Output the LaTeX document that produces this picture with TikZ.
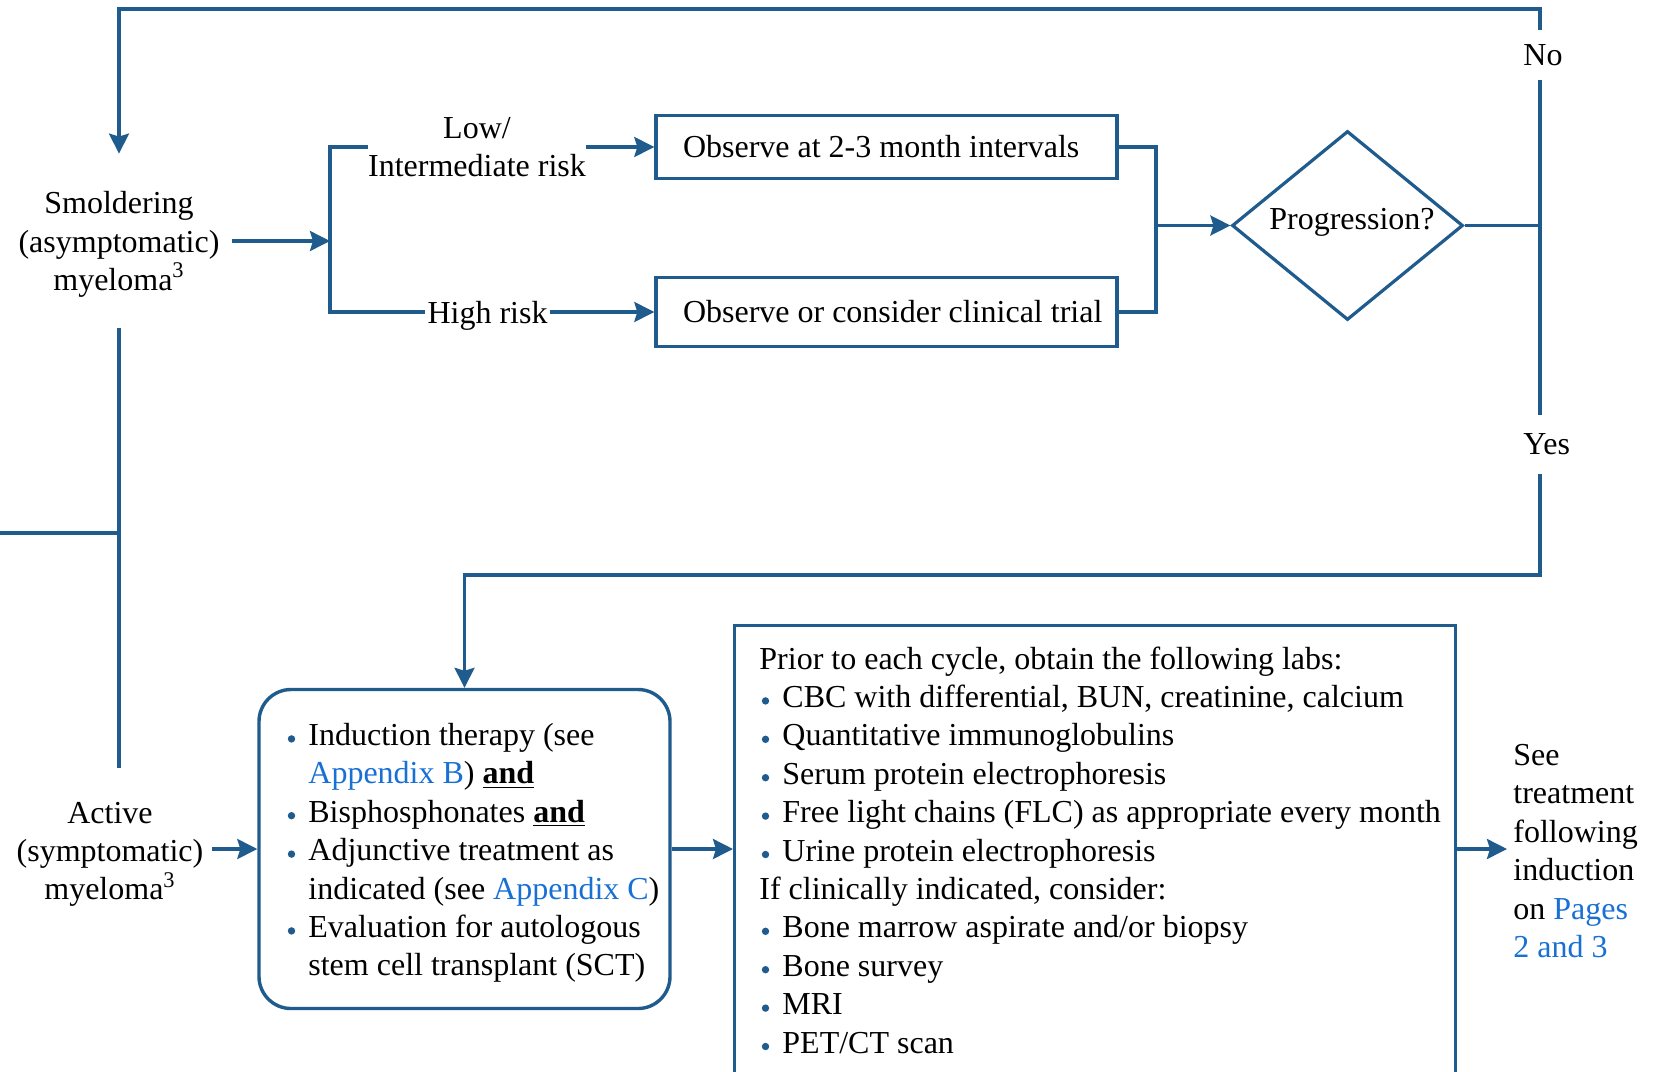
\documentclass[tikz,border=0pt]{standalone}
\usepackage{fontspec}
\setmainfont{Liberation Serif}
\usetikzlibrary{arrows.meta,shapes.geometric}
\definecolor{linec}{RGB}{31,91,140}
\definecolor{linkc}{RGB}{24,112,212}
\newcommand{\bul}{\makebox[11.5pt][l]{\hspace{1.2pt}\tikz[baseline=-3.3pt]\fill[linec] (0,0) circle[radius=1.85pt];}}
\newcommand{\bulind}{\hspace*{11.5pt}}
\begin{document}
\begin{tikzpicture}[x=0.5pt,y=-0.5pt,
  every node/.style={font=\fontsize{16pt}{19.2pt}\selectfont, inner sep=0pt},
  conn/.style={draw=linec, line width=1.6pt},
  arr/.style={conn, -{Stealth[length=10pt,width=10pt,inset=1.5pt]}},
  boxsq/.style={draw=linec, line width=1.7pt, rectangle}]
\useasboundingbox (0,0) rectangle (1670,1071);

% nodes
\node[align=center, minimum height=87pt, inner xsep=6pt] (smol) at (119,241) {\rule{0pt}{14.5pt}Smoldering\\(asymptomatic)\\myeloma\textsuperscript{3}};
\node[align=center, minimum height=80.5pt, inner xsep=4pt] (act) at (110,849) {\rule{0pt}{16pt}Active\\(symptomatic)\\myeloma\textsuperscript{3}};
\coordinate (brk) at (330,241);
\node[align=center] (risk1) at (477,147) {Low/\\Intermediate risk};
\node[inner xsep=1pt, text depth=0pt] (risk2) at (487.5,312) {High risk};
\node[boxsq, minimum width=230.5pt, minimum height=31.5pt] (box1) at (886.5,147) {\makebox[230.5pt][l]{\hspace{13.5pt}Observe at 2-3 month intervals}};
\node[boxsq, minimum width=230.5pt, minimum height=34.5pt] (box2) at (886.5,312) {\makebox[230.5pt][l]{\hspace{13.5pt}Observe or consider clinical trial}};
\coordinate (jn) at (1156,225.5);
\node[diamond, draw=linec, line width=1.6pt, minimum width=115.5pt, minimum height=94.5pt] (dia) at (1347.5,225.5) {};
\node (diatxt) at (1352,222) {Progression?};
\coordinate (rv) at (1540,225.5);
\node[anchor=west, minimum height=25pt] (nolab) at (1523,55) {No};
\node[anchor=west, minimum height=29.5pt] (yeslab) at (1523,444.5) {Yes};
\coordinate (topR) at (1540,9);
\coordinate (topL) at (119,9);
\coordinate (botR) at (1540,575);
\coordinate (botL) at (464.5,575);
\coordinate (stub) at (0,533);
\node[draw=linec, line width=1.7pt, rounded corners=16pt, minimum width=205.5pt, minimum height=159.5pt] (ind) at (464.5,849) {};
\node[anchor=west, align=left] (indtxt) at (285,853) {\bul Induction therapy (see\\
\bulind\textcolor{linkc}{Appendix B}) \underline{\textbf{and}}\\
\bul Bisphosphonates \underline{\textbf{and}}\\
\bul Adjunctive treatment as\\
\bulind indicated (see \textcolor{linkc}{Appendix C})\\
\bul Evaluation for autologous\\
\bulind stem cell transplant (SCT)};
\node[boxsq, minimum width=360.5pt, minimum height=250pt, anchor=north west] (lab) at (733,624) {};
\node[anchor=west, align=left] (labtxt) at (759,850) {Prior to each cycle, obtain the following labs:\\
\bul CBC with differential, BUN, creatinine, calcium\\
\bul Quantitative immunoglobulins\\
\bul Serum protein electrophoresis\\
\bul Free light chains (FLC) as appropriate every month\\
\bul Urine protein electrophoresis\\
If clinically indicated, consider:\\
\bul Bone marrow aspirate and/or biopsy\\
\bul Bone survey\\
\bul MRI\\
\bul PET/CT scan};
\node[anchor=west, align=left, inner xsep=3pt] (see) at (1507,851) {See\\treatment\\following\\induction\\on \textcolor{linkc}{Pages}\\\textcolor{linkc}{2 and 3}};

% connectors
\draw[conn] (stub) -- (stub -| smol.south);
\draw[conn] (smol.south) -- (smol.south |- act.north);
\draw[arr] (smol.east) -- (smol.east -| brk);
\draw[conn] (risk1.west) -- (risk1.west -| brk) -- (risk2.west -| brk) -- (risk2.west);
\draw[arr] (risk1.east) -- (box1.west);
\draw[arr] (risk2.east) -- (box2.west);
\draw[conn] (box1.east) -- (box1.east -| jn) -- (box2.east -| jn) -- (box2.east);
\draw[arr] (jn) -- (dia.west);
\draw[conn] (dia.east) -- (rv) -- (rv |- nolab.south);
\draw[arr] (rv |- nolab.north) -- (topR) -- (topL) -- (smol.north);
\draw[conn] (rv) -- (rv |- yeslab.north);
\draw[arr] (rv |- yeslab.south) -- (botR) -- (botL) -- (ind.north);
\draw[arr] (act.east |- ind.west) -- (ind.west);
\draw[arr] (ind.east) -- (ind.east -| lab.west);
\draw[arr] (ind.east -| lab.east) -- (see.west |- ind.east);
\end{tikzpicture}
\end{document}
